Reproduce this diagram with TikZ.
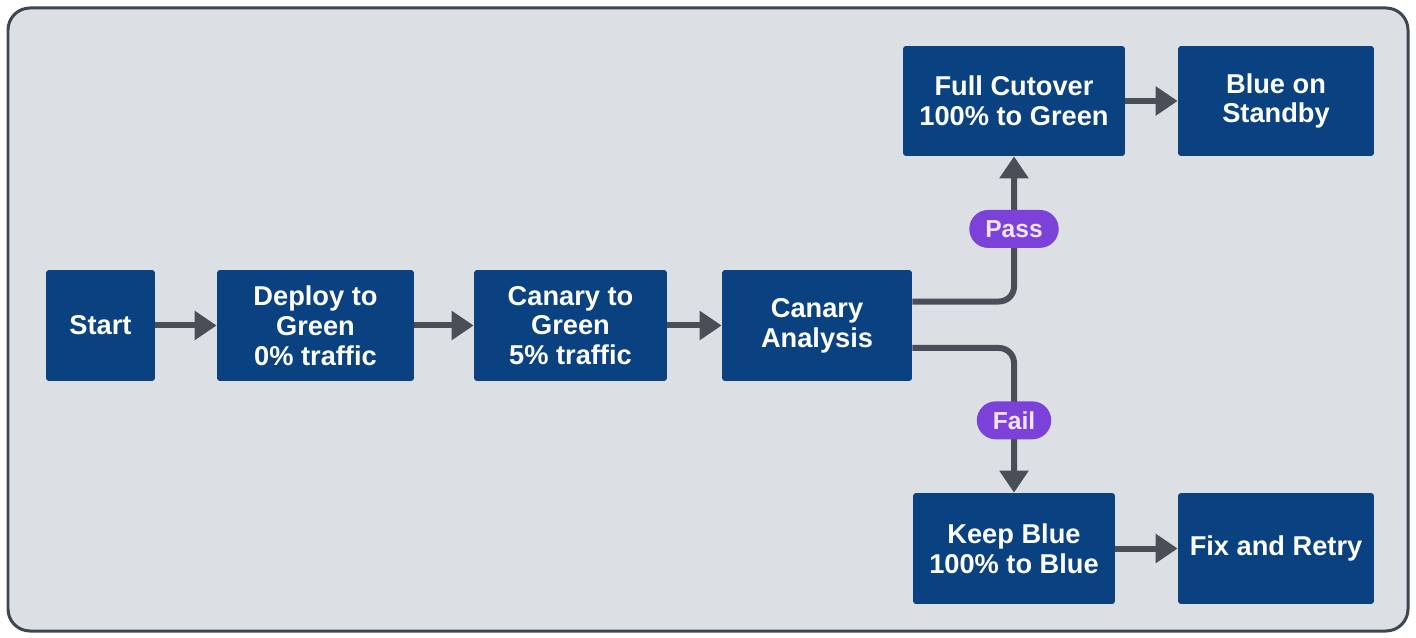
\documentclass[tikz,border=0pt]{standalone}
\usepackage{fontspec}
\setmainfont{Liberation Sans}
\usepackage{tikz}
\usetikzlibrary{arrows.meta}
\usepackage{xcolor}
\definecolor{boxnavy}{HTML}{0A4281}
\definecolor{panelgray}{HTML}{DCE0E4}
\definecolor{panelborder}{HTML}{3E4654}
\definecolor{flowgray}{HTML}{4A4E57}
\definecolor{pillpurple}{HTML}{7B41D9}
\definecolor{pilltext}{HTML}{F0E4FF}

\tikzset{
  stage/.style={draw=none, fill=boxnavy, text=white, rounded corners=0.06cm,
    align=center, minimum height=2.22cm, inner sep=0pt,
    font=\fontsize{15.5}{17}\selectfont\bfseries},
  flow/.style={flowgray, line width=0.12cm,
    -{Triangle[length=0.44cm, width=0.56cm]}},
  pill/.style={fill=pillpurple, text=pilltext, rounded corners=0.38cm,
    minimum height=0.76cm, inner xsep=0.32cm, inner ysep=0pt,
    font=\fontsize{14}{16}\selectfont\bfseries}
}

\begin{document}
\begin{tikzpicture}[x=0.02cm, y=-0.02cm]
            \useasboundingbox (0,0) rectangle (1416,638);
            \draw[fill=panelgray, draw=panelborder, line width=0.06cm, rounded corners=0.44cm]
              (8,8) rectangle (1408,631);
            % main row
            \node[stage, minimum width=2.18cm] (start) at (100.5,325.5) {Start};
            \node[stage, minimum width=3.94cm] (deploy) at (315.5,325.5) {Deploy to\\Green\\0\% traffic};
            \node[stage, minimum width=3.86cm] (canary) at (570.5,325.5) {Canary to\\Green\\5\% traffic};
            \node[stage, minimum width=3.80cm] (analysis) at (817,325.5) {Canary\\Analysis};
            % branches
            \node[stage, minimum width=4.44cm, minimum height=2.20cm] (cutover) at (1014,101) {Full Cutover\\100\% to Green};
            \node[stage, minimum width=3.92cm, minimum height=2.20cm] (standby) at (1276,101) {Blue on\\Standby};
            \node[stage, minimum width=4.04cm] (keep) at (1014,548.5) {Keep Blue\\100\% to Blue};
            \node[stage, minimum width=3.92cm] (fix) at (1276,548.5) {Fix and Retry};
            \draw[flow] (start) -- (deploy);
            \draw[flow] (deploy) -- (canary);
            \draw[flow] (canary) -- (analysis);
            \draw[flow, rounded corners=0.3cm] ([yshift=0.48cm]analysis.east) -| (cutover.south)
              node[pill, pos=0.75] {Pass};
            \draw[flow, rounded corners=0.3cm] ([yshift=-0.45cm]analysis.east) -| (keep.north)
              node[pill, pos=0.75] {Fail};
            \draw[flow] (cutover) -- (standby);
            \draw[flow] (keep) -- (fix);
          \end{tikzpicture}
\end{document}
